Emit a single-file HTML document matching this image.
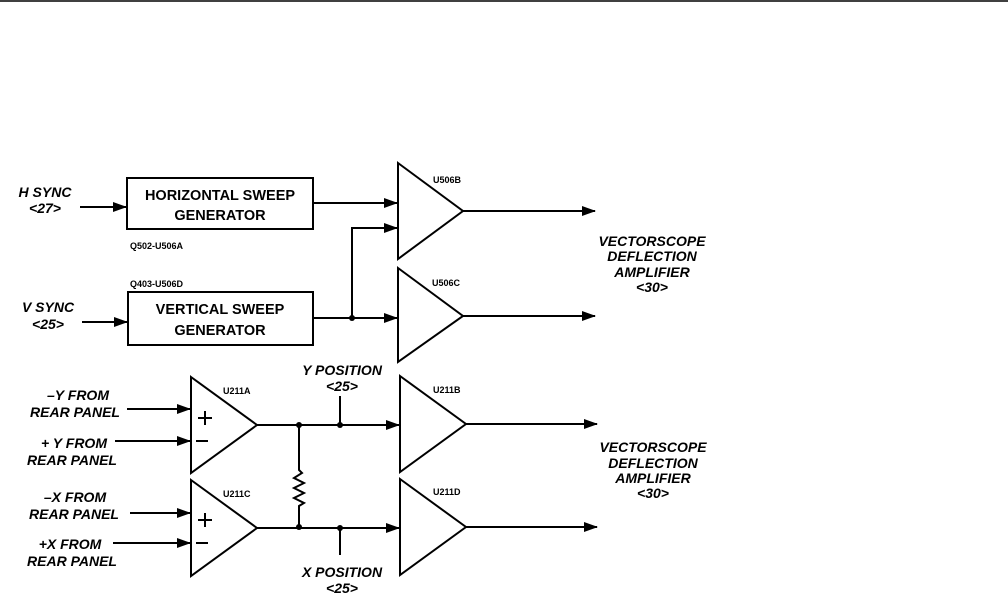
<!DOCTYPE html>
<html><head><style>
html,body{margin:0;padding:0;background:#fff;}
svg{display:block;}
text{font-family:"Liberation Sans",sans-serif;font-weight:bold;fill:#000;}
.it{font-style:italic;font-size:14px;}
.bx{font-size:14.5px;}
.sm{font-size:9px;}
</style></head><body>
<svg width="1008" height="601" viewBox="0 0 1008 601" xmlns="http://www.w3.org/2000/svg">
<defs>
<marker id="a" markerWidth="14" markerHeight="10" refX="13" refY="5" orient="auto" markerUnits="userSpaceOnUse">
<path d="M0,0 L14,5 L0,10 Z" fill="#000"/></marker>
</defs>
<line x1="0" y1="1" x2="1008" y2="1" stroke="#000" stroke-width="1.5"/>
<g stroke="#000" stroke-width="2" fill="none">
<line x1="80" y1="207" x2="126" y2="207" marker-end="url(#a)"/>
<line x1="82" y1="322" x2="127" y2="322" marker-end="url(#a)"/>
<rect x="127" y="178" width="186" height="51"/>
<rect x="128" y="292" width="185" height="53"/>
<line x1="313" y1="203" x2="397" y2="203" marker-end="url(#a)"/>
<line x1="313" y1="318" x2="397" y2="318" marker-end="url(#a)"/>
<polyline points="352,318 352,228 397,228" marker-end="url(#a)"/>
<polygon points="398,163 463,211 398,259"/>
<polygon points="398,268 463,316 398,362"/>
<polygon points="400,376 466,424 400,472"/>
<polygon points="400,479 466,527 400,575"/>
<polygon points="191,377 257,425 191,473"/>
<polygon points="191,480 257,528 191,576"/>
<line x1="463" y1="211" x2="595" y2="211" marker-end="url(#a)"/>
<line x1="463" y1="316" x2="595" y2="316" marker-end="url(#a)"/>
<line x1="466" y1="424" x2="597" y2="424" marker-end="url(#a)"/>
<line x1="466" y1="527" x2="597" y2="527" marker-end="url(#a)"/>
<line x1="257" y1="425" x2="399" y2="425" marker-end="url(#a)"/>
<line x1="257" y1="528" x2="399" y2="528" marker-end="url(#a)"/>
<polyline points="299,425 299,470 302,473 294,478 304,483 294,488 304,493 294,498 304,503 299,506 299,528"/>
<line x1="340" y1="396" x2="340" y2="425"/>
<line x1="340" y1="528" x2="340" y2="555"/>
<line x1="127" y1="409" x2="190" y2="409" marker-end="url(#a)"/>
<line x1="115" y1="441" x2="190" y2="441" marker-end="url(#a)"/>
<line x1="130" y1="513" x2="190" y2="513" marker-end="url(#a)"/>
<line x1="113" y1="543" x2="190" y2="543" marker-end="url(#a)"/>
<line x1="198" y1="418" x2="212" y2="418"/><line x1="205" y1="411" x2="205" y2="425"/>
<line x1="196" y1="441" x2="208" y2="441"/>
<line x1="198" y1="520" x2="212" y2="520"/><line x1="205" y1="513" x2="205" y2="527"/>
<line x1="196" y1="543" x2="208" y2="543"/>
</g>
<g fill="#000">
<circle cx="352" cy="318" r="3"/><circle cx="299" cy="425" r="3"/><circle cx="340" cy="425" r="3"/>
<circle cx="299" cy="527" r="3"/><circle cx="340" cy="528" r="3"/>
</g>
<text class="it" x="45" y="197" text-anchor="middle">H SYNC</text>
<text class="it" x="45" y="213" text-anchor="middle">&lt;27&gt;</text>
<text class="it" x="48" y="312" text-anchor="middle">V SYNC</text>
<text class="it" x="48" y="329" text-anchor="middle">&lt;25&gt;</text>
<text class="bx" x="220" y="200" text-anchor="middle">HORIZONTAL SWEEP</text>
<text class="bx" x="220" y="220" text-anchor="middle">GENERATOR</text>
<text class="bx" x="220" y="314" text-anchor="middle">VERTICAL SWEEP</text>
<text class="bx" x="220" y="335" text-anchor="middle">GENERATOR</text>
<text class="sm" x="130" y="249">Q502-U506A</text>
<text class="sm" x="130" y="287">Q403-U506D</text>
<text class="sm" x="433" y="183">U506B</text>
<text class="sm" x="432" y="286">U506C</text>
<text class="sm" x="433" y="393">U211B</text>
<text class="sm" x="433" y="495">U211D</text>
<text class="sm" x="223" y="394">U211A</text>
<text class="sm" x="223" y="497">U211C</text>
<text class="it" x="342" y="375" text-anchor="middle">Y POSITION</text>
<text class="it" x="342" y="391" text-anchor="middle">&lt;25&gt;</text>
<text class="it" x="342" y="577" text-anchor="middle">X POSITION</text>
<text class="it" x="342" y="593" text-anchor="middle">&lt;25&gt;</text>
<text class="it" x="78" y="400" text-anchor="middle">–Y FROM</text>
<text class="it" x="75" y="417" text-anchor="middle">REAR PANEL</text>
<text class="it" x="74" y="448" text-anchor="middle">+ Y FROM</text>
<text class="it" x="72" y="465" text-anchor="middle">REAR PANEL</text>
<text class="it" x="75" y="502" text-anchor="middle">–X FROM</text>
<text class="it" x="74" y="519" text-anchor="middle">REAR PANEL</text>
<text class="it" x="70" y="549" text-anchor="middle">+X FROM</text>
<text class="it" x="72" y="566" text-anchor="middle">REAR PANEL</text>
<text class="it" x="652" y="246" text-anchor="middle">VECTORSCOPE</text>
<text class="it" x="652" y="261" text-anchor="middle">DEFLECTION</text>
<text class="it" x="652" y="277" text-anchor="middle">AMPLIFIER</text>
<text class="it" x="652" y="292" text-anchor="middle">&lt;30&gt;</text>
<text class="it" x="653" y="452" text-anchor="middle">VECTORSCOPE</text>
<text class="it" x="653" y="468" text-anchor="middle">DEFLECTION</text>
<text class="it" x="653" y="483" text-anchor="middle">AMPLIFIER</text>
<text class="it" x="653" y="498" text-anchor="middle">&lt;30&gt;</text>
</svg>
</body></html>
